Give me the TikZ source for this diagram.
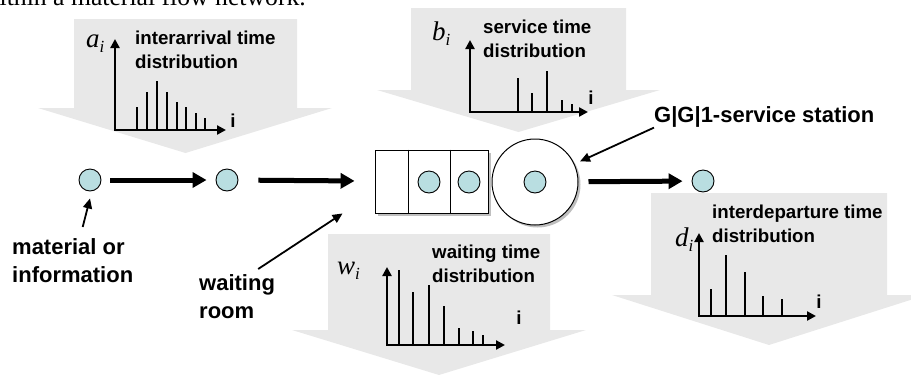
\documentclass[tikz,border=0pt]{standalone}
\usepackage{fontspec}
\setmainfont{Liberation Sans}
\newfontfamily\capserif{Liberation Serif}
\usetikzlibrary{arrows.meta,shadows}

\definecolor{arrowgray}{RGB}{232,232,232}
\definecolor{tokenblue}{RGB}{185,222,225}

\newcommand{\symidx}[1]{#1\raisebox{-5pt}{\fontsize{17}{17}\selectfont i}}

\tikzset{
  bigarrow/.style={fill=arrowgray, draw=none},
  token/.style={circle, draw, fill=tokenblue, minimum size=22pt, inner sep=0pt, line width=0.9pt},
  flow/.style={line width=5pt, -{Triangle[length=14pt,width=15pt]}},
  pointer/.style={line width=1.8pt, -{Triangle[length=10pt,width=9pt]}},
  axis/.style={line width=2.5pt, {Triangle[length=9pt,width=9pt]}-{Triangle[length=9pt,width=9pt]}},
  bar/.style={line width=2.2pt},
  lbl/.style={font=\fontsize{22}{28}\selectfont\bfseries, inner sep=0pt, align=left},
  distlbl/.style={font=\fontsize{18.7}{24}\selectfont\bfseries, inner sep=0pt, align=left},
  sym/.style={font=\capserif\itshape\fontsize{27}{27}\selectfont, inner sep=0pt},
  shadowed/.style={drop shadow={shadow xshift=2.5pt, shadow yshift=-2.5pt}},
}

\begin{document}
\begin{tikzpicture}[x=1pt,y=-1pt]
\useasboundingbox (0,0) rectangle (911,376);

% caption line of the page, cut off
\node[font=\capserif\fontsize{25.7}{26}\selectfont, inner sep=0pt, anchor=base east] (caption) at (306,5) {within a material flow network.};

% big gray arrows
\fill[bigarrow] (74,19) -- (297,19) -- (297,108) -- (332,108) -- (185.5,153) -- (38,108) -- (74,108) -- cycle;
\fill[bigarrow] (411,8) -- (626,8) -- (626,90) -- (660,90) -- (518.5,132) -- (377,90) -- (411,90) -- cycle;
\fill[bigarrow] (328,234) -- (550,234) -- (550,330) -- (586,330) -- (439,375) -- (292,330) -- (328,330) -- cycle;
\fill[bigarrow] (651,193) -- (887,193) -- (887,295) -- (926,295) -- (769,345) -- (612,295) -- (651,295) -- cycle;

% interarrival time
\draw[axis] (115,39) -- (115,130) -- (226,130);
\foreach \x/\y in {137/107,147/92,157/81,167/92,177/102,186/107,196/113,205/118}
  \draw[bar] (\x,130) -- (\x,\y);
\node[sym, anchor=base west] (ai) at (86,47) {\symidx{a}};
\node[distlbl, anchor=north west] (iatitle) at (135,31) {interarrival time\\distribution};
\node[distlbl] (iai) at (233,121) {i};

% service time
\draw[axis] (470,40) -- (470,112) -- (588,112);
\foreach \x/\y in {518/78,532/93,547/71,562/100,572/104}
  \draw[bar] (\x,112) -- (\x,\y);
\node[sym, anchor=base west] (bi) at (432,40) {\symidx{b}};
\node[distlbl, anchor=north west] (sttitle) at (483,20) {service time\\distribution};
\node[distlbl] (sti) at (591,98) {i};

% waiting time
\draw[axis] (387,267) -- (387,345) -- (505,345);
\foreach \x/\y in {399/270,413/292,429/285,444/306,459/328,473/331,483/335}
  \draw[bar] (\x,345) -- (\x,\y);
\node[sym, anchor=base west] (wi) at (337,274) {\symidx{w}};
\node[distlbl, anchor=north west] (wttitle) at (432,245) {waiting time\\distribution};
\node[distlbl] (wti) at (519,318) {i};

% interdeparture time
\draw[axis] (699,233) -- (699,316) -- (816,316);
\foreach \x/\y in {711/289,726/255,745/272,763/296,782/299}
  \draw[bar] (\x,316) -- (\x,\y);
\node[sym, anchor=base west] (di) at (675,246) {\symidx{d}};
\node[distlbl, anchor=north west] (idtitle) at (712,205) {interdeparture time\\distribution};
\node[distlbl] (idi) at (819,302) {i};

% flow
\node[token] (m1) at (90,180) {};
\node[token] (m2) at (227,180) {};
\node[draw, line width=0.9pt, fill=white, minimum width=113pt, minimum height=63pt, inner sep=0pt, shadowed] (queue) at (431.5,181.5) {};
\draw[line width=0.9pt] ([xshift=-23.5pt]queue.north) -- ([xshift=-23.5pt]queue.south);
\draw[line width=0.9pt] ([xshift=18.5pt]queue.north) -- ([xshift=18.5pt]queue.south);
\node[token] (q1) at (429,182) {};
\node[token] (q2) at (469,182) {};
\node[circle, draw, line width=1pt, fill=white, minimum size=86pt, inner sep=0pt, shadowed] (server) at (535,182) {};
\node[token] (s1) at (535,182) {};
\node[token] (m3) at (703,181) {};

\draw[flow, shorten <=9pt, shorten >=9pt] (m1) -- (m2);
\draw[flow, shorten <=20pt, shorten >=20pt] (m2) -- (queue);
\draw[flow, shorten <=10pt, shorten >=9pt] (server) -- (m3);

% labels
\node[lbl, anchor=north west] (matlbl) at (12,238) {material or\\information};
\draw[pointer] ([xshift=10pt,yshift=11pt]matlbl.north) -- ([yshift=-7pt]m1.south);
\node[lbl, anchor=north west] (roomlbl) at (199,274) {waiting\\room};
\draw[pointer] ([xshift=-17pt,yshift=5pt]roomlbl.north east) -- ([xshift=-32pt]queue.south west);
\node[lbl, anchor=west] (gg1) at (654,117) {G|G|1-service station};
\draw[pointer, shorten >=6pt] (gg1.south west) -- (server);
\end{tikzpicture}
\end{document}
